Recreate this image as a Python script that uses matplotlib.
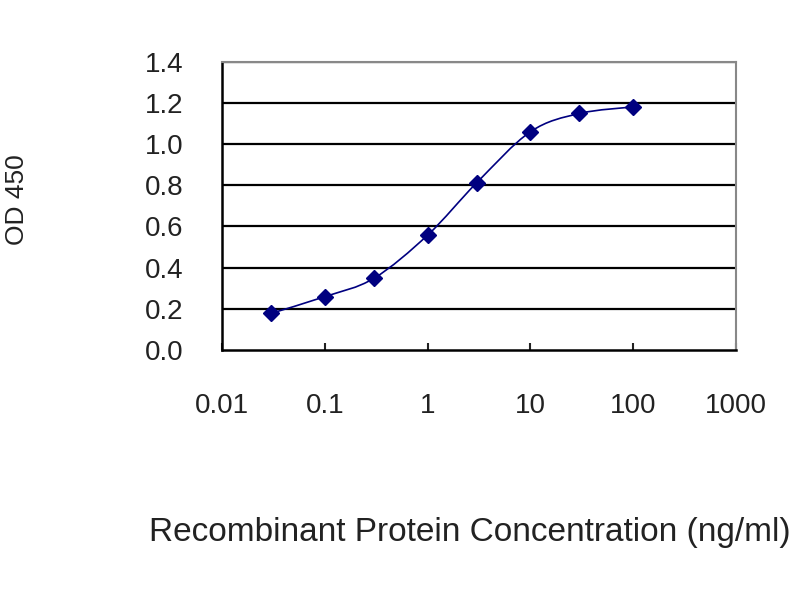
import numpy as np
import matplotlib
matplotlib.use("Agg")
from matplotlib import pyplot as plt
from matplotlib.path import Path
from matplotlib.patches import PathPatch

# dados
conc = [0.03, 0.1, 0.3, 1, 3, 10, 30, 100]
od450 = [0.178, 0.259, 0.348, 0.558, 0.812, 1.06, 1.149, 1.181]
xticks = [0.01, 0.1, 1, 10, 100, 1000]
xtick_labels = ["0.01", "0.1", "1", "10", "100", "1000"]
yticks = [0.0, 0.2, 0.4, 0.6, 0.8, 1.0, 1.2, 1.4]
ytick_labels = ["0.0", "0.2", "0.4", "0.6", "0.8", "1.0", "1.2", "1.4"]

plt.rcParams['font.family'] = ['Liberation Sans', 'DejaVu Sans']
navy = '#000080'

# curva suavizada (estilo excel) feita em espaco log
def curva_suave(xs, ys):
    lx = np.log10(xs)
    pts = np.column_stack([lx, ys])
    verts = [pts[0]]
    codes = [Path.MOVETO]
    n = len(pts)
    for i in range(n - 1):
        p0 = pts[i - 1] if i > 0 else pts[i]
        p1 = pts[i]
        p2 = pts[i + 1]
        p3 = pts[i + 2] if i + 2 < n else pts[i + 1]
        c1 = p1 + (p2 - p0) / 6.0
        c2 = p2 - (p3 - p1) / 6.0
        verts += [c1, c2, p2]
        codes += [Path.CURVE4] * 3
    verts = np.array(verts)
    verts[:, 0] = 10 ** verts[:, 0]
    return Path(verts, codes)

fig = plt.figure(figsize=(8, 6), dpi=100)
ax = fig.add_axes([0.2775, 0.4167, 0.6425, 0.4803])

ax.set_xscale('log')
ax.set_xlim(0.01, 1000)
ax.set_ylim(0, 1.4)

for y in yticks[1:]:
    ax.axhline(y, color='black', lw=1.6, zorder=1)

ax.add_patch(PathPatch(curva_suave(conc, od450), facecolor='none',
                       edgecolor=navy, lw=1.2, zorder=2))
ax.plot(conc, od450, linestyle='none', marker='D', markersize=8,
        color=navy, zorder=3)

ax.set_xticks(xticks)
ax.set_xticklabels(xtick_labels)
ax.minorticks_off()
ax.set_yticks(yticks)
ax.set_yticklabels(ytick_labels)
ax.tick_params(axis='x', direction='in', length=5, width=1.5, pad=31,
               labelsize=20, colors='#222222')
ax.tick_params(axis='y', direction='out', length=0, pad=28,
               labelsize=20, colors='#222222')

for s in ['left', 'bottom']:
    ax.spines[s].set_color('black')
    ax.spines[s].set_linewidth(1.8)
for s in ['top', 'right']:
    ax.spines[s].set_color('#888888')
    ax.spines[s].set_linewidth(1.5)

fig.text(470 / 800, 1 - 533 / 600, "Recombinant Protein Concentration (ng/ml)",
         ha='center', va='center', fontsize=24, color='#222222')
fig.text(17 / 800, 1 - 200 / 600, "OD 450", rotation=90,
         ha='center', va='center', fontsize=19, color='#222222')

fig.savefig("out.png", dpi=100)
